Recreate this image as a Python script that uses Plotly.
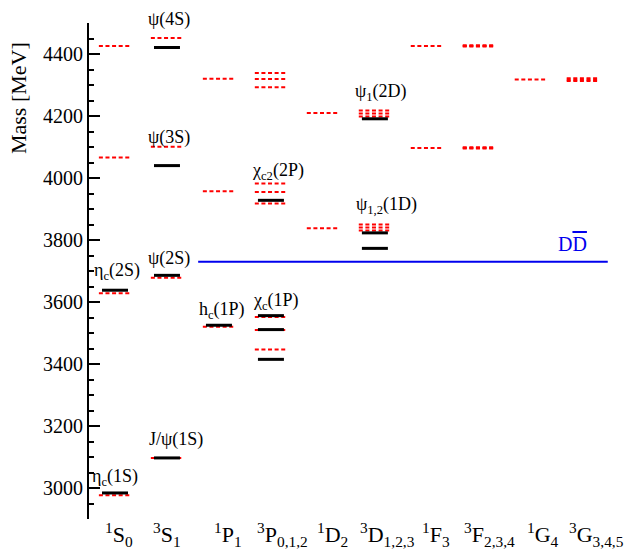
import plotly.graph_objects as go

# ---- data ----
tick_labels = ["<sup>1</sup>S<sub>0</sub>", "<sup>3</sup>S<sub>1</sub>", "<sup>1</sup>P<sub>1</sub>",
               "<sup>3</sup>P<sub>0,1,2</sub>", "<sup>1</sup>D<sub>2</sub>", "<sup>3</sup>D<sub>1,2,3</sub>",
               "<sup>1</sup>F<sub>3</sub>", "<sup>3</sup>F<sub>2,3,4</sub>", "<sup>1</sup>G<sub>4</sub>",
               "<sup>3</sup>G<sub>3,4,5</sub>"]

# experimental levels (black)
exp_cat = [0, 0, 1, 1, 1, 1, 2, 3, 3, 3, 3, 5, 5, 5]
exp_mass = [2984, 3638, 3097, 3686, 4040, 4421, 3525, 3415, 3511, 3556, 3928, 3773, 3823, 4191]

# model levels (red dashed)
th_cat = [0, 0, 0, 0,
          1, 1, 1, 1,
          2, 2, 2,
          3, 3, 3, 3, 3, 3, 3, 3, 3,
          4, 4,
          5, 5, 5, 5, 5, 5,
          6, 6,
          7, 7, 7, 7, 7, 7,
          8,
          9, 9, 9]
th_mass = [2977, 3628, 4066, 4426,
           3097, 3678, 4101, 4452,
           3520, 3957, 4320,
           3447, 3510, 3552, 3918, 3955, 3982, 4293, 4319, 4339,
           3838, 4210,
           3831, 3840, 3850, 4198, 4208, 4218,
           4097, 4426,
           4095, 4097, 4099, 4424, 4426, 4428,
           4318,
           4313, 4317, 4322]

dd_threshold = 3730

level_labels = ["η<sub>c</sub>(1S)", "J/ψ(1S)", "η<sub>c</sub>(2S)", "ψ(2S)", "ψ(3S)", "ψ(4S)",
                "h<sub>c</sub>(1P)", "χ<sub>c</sub>(1P)", "χ<sub>c2</sub>(2P)",
                "ψ<sub>1</sub>(2D)", "ψ<sub>1,2</sub>(1D)"]
label_x = [0.0, 1.17, 0.04, 1.04, 1.04, 1.04, 2.06, 3.1, 3.13, 5.12, 5.23]
label_y = [2990, 3116, 3656, 3700, 4089, 4470, 3528, 3559, 3978, 4232, 3868]

# left offset of each category label relative to its column
cat_label_dx = [-0.23, -0.31, -0.13, -0.31, -0.15, -0.33, -0.13, -0.33, -0.12, -0.31]

# ---- figure ----
EXP_HW = 0.25
TH_HW = 0.31
SERIF = "Liberation Serif"

def segments(cats, masses, hw):
    xs, ys = [], []
    for c, m in zip(cats, masses):
        xs += [c - hw, c + hw, None]
        ys += [m, m, None]
    return xs, ys

fig = go.Figure()
tx, ty = segments(th_cat, th_mass, TH_HW)
fig.add_trace(go.Scatter(x=tx, y=ty, mode="lines",
                         line=dict(color="red", width=2, dash="4px,2.6px"),
                         hoverinfo="skip", showlegend=False))
ex, ey = segments(exp_cat, exp_mass, EXP_HW)
fig.add_trace(go.Scatter(x=ex, y=ey, mode="lines",
                         line=dict(color="black", width=3),
                         hoverinfo="skip", showlegend=False))
fig.add_trace(go.Scatter(x=[1.6, 9.48], y=[dd_threshold, dd_threshold], mode="lines",
                         line=dict(color="#0000ee", width=2),
                         hoverinfo="skip", showlegend=False))

for t, x, y in zip(level_labels, label_x, label_y):
    fig.add_annotation(x=x, y=y, text=t, showarrow=False, xanchor="center", yanchor="bottom",
                       font=dict(family=SERIF, size=18, color="black"))

fig.add_annotation(x=8.8, y=dd_threshold + 14, text="D<span style='text-decoration:overline'>D</span>",
                   showarrow=False, xanchor="center", yanchor="bottom",
                   font=dict(family=SERIF, size=20, color="#0000ee"))

# category labels along the bottom
for i, (t, dx) in enumerate(zip(tick_labels, cat_label_dx)):
    fig.add_annotation(x=i + dx, y=0.004, xref="x", yref="paper", text=t, showarrow=False,
                       xanchor="left", yanchor="top",
                       font=dict(family=SERIF, size=22, color="black"))

# y-axis title, placed near the top like the reference
fig.add_annotation(x=-0.134, y=0.848, xref="paper", yref="paper", text="Mass [MeV]",
                   textangle=-90, showarrow=False, xanchor="center", yanchor="middle",
                   font=dict(family=SERIF, size=22, color="black"))

fig.update_layout(
    width=627, height=560,
    margin=dict(l=89, r=13, t=23, b=41),
    plot_bgcolor="white", paper_bgcolor="white",
    font=dict(family=SERIF, color="black"),
    xaxis=dict(range=[-0.5, 9.6], showgrid=False, zeroline=False, showline=False,
               showticklabels=False, ticks="", automargin=False),
    yaxis=dict(range=[2900, 4500], showgrid=False, zeroline=False, showline=True,
               automargin=False,
               linecolor="black", linewidth=2, ticks="inside", ticklen=11, tickwidth=2,
               tickcolor="black", tickvals=[3000, 3200, 3400, 3600, 3800, 4000, 4200, 4400],
               minor=dict(tickmode="linear", tick0=2900, dtick=50, ticks="inside",
                          ticklen=5, tickwidth=2, tickcolor="black"),
               tickfont=dict(family=SERIF, size=20, color="black")),
)

fig.write_html("out.html", config={"displayModeBar": False},
               post_script="document.body.style.margin='0';")
